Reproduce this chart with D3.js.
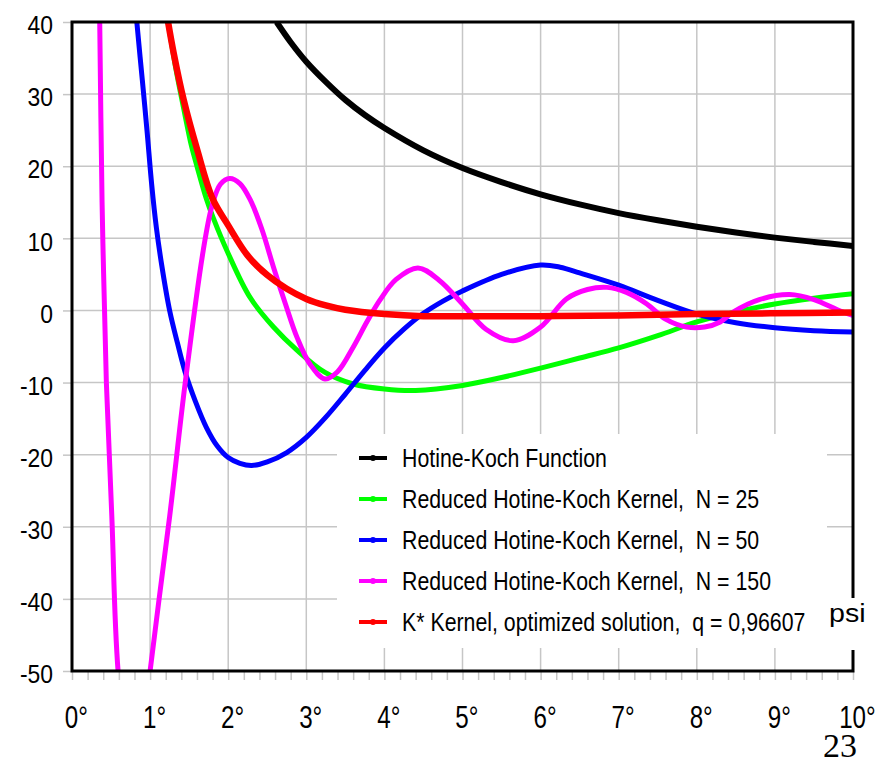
<!DOCTYPE html>
<html>
<head>
<meta charset="utf-8">
<script src="https://cdn.jsdelivr.net/npm/d3@7"></script>
<style>
  body { margin: 0; background: #fff; }
  text { font-family: "Liberation Sans", Arial, sans-serif; }
</style>
</head>
<body>
<svg></svg>
<script>
var margin = {top: 22, right: 28, bottom: 89, left: 72};
var width = 881 - margin.left - margin.right;
var height = 760 - margin.top - margin.bottom;

// psi in degrees, kernel value
var hotineKoch = [[2.62, 40], [2.8, 37.2], [3, 34.5], [3.25, 31.7], [3.5, 29.2], [3.75, 27.1],
  [4, 25.3], [4.5, 22.2], [5, 19.75], [5.5, 17.8], [6, 16.1], [6.5, 14.7], [7, 13.5],
  [7.5, 12.5], [8, 11.6], [8.5, 10.8], [9, 10.1], [9.5, 9.5], [10, 8.95]];

var reducedN25 = [[1.2, 42], [1.23, 40], [1.33, 33.5], [1.43, 28], [1.53, 22.8], [1.6, 20],
  [1.72, 15.5], [1.81, 12.8], [2, 7.9], [2.28, 1.8], [2.58, -2.3], [2.88, -5.5], [3.24, -8.6],
  [3.6, -10.2], [4, -10.9], [4.4, -11.1], [5, -10.4], [5.5, -9.3], [6, -8], [6.5, -6.6],
  [7, -5.2], [7.5, -3.5], [8, -1.6], [8.5, -0.2], [9, 0.9], [9.5, 1.7], [10, 2.3]];

var reducedN50 = [[0.81, 43], [0.83, 40], [0.9, 32], [0.96, 25], [1.02, 17.5], [1.08, 11.5],
  [1.15, 6.2], [1.25, 0], [1.35, -4.5], [1.45, -8.6], [1.58, -12.6], [1.72, -16.2], [1.86, -18.8],
  [2, -20.4], [2.15, -21.2], [2.3, -21.5], [2.5, -21], [2.75, -19.7], [3, -17.6], [3.25, -14.8],
  [3.5, -11.6], [3.75, -8.3], [4, -5.2], [4.25, -2.6], [4.5, -0.4], [4.75, 1.3], [5, 2.7],
  [5.5, 5], [6, 6.3], [6.25, 6], [6.5, 5.2], [7, 3.5], [7.5, 1.4], [8, -0.5], [8.5, -1.7],
  [9, -2.4], [9.5, -2.8], [10, -3]];

var reducedN150 = [[0.35, 45], [0.355, 40], [0.385, 15], [0.405, 5], [0.44, -10], [0.51, -28.6],
  [0.59, -50], [0.8, -70], [1, -50], [1.25, -28.6], [1.45, -10], [1.68, 8.3], [1.79, 14.4],
  [1.9, 17.5], [2.02, 18.3], [2.15, 17.6], [2.28, 15.4], [2.43, 11.3], [2.58, 6], [2.73, 1],
  [2.88, -3.7], [3.05, -7.5], [3.24, -9.5], [3.4, -8.5], [3.6, -5.1], [3.78, -1.5], [3.94, 1.4],
  [4.15, 4.3], [4.43, 5.9], [4.7, 4.2], [5, 0.9], [5.3, -2.6], [5.65, -4.2], [6, -2.3],
  [6.33, 1.6], [6.6, 2.9], [6.85, 3.2], [7.1, 2.5], [7.36, 0.9], [7.6, -1.2], [7.87, -2.3],
  [8.1, -2.3], [8.3, -1.6], [8.47, -0.2], [8.8, 1.5], [9.19, 2.2], [9.5, 1.5], [9.8, 0.1], [10, -0.7]];

var kStar = [[1.2, 42], [1.23, 40], [1.3, 35.8], [1.43, 29.2], [1.6, 22.4], [1.8, 15.5], [2, 11.8],
  [2.25, 7.6], [2.5, 4.9], [2.75, 3], [3, 1.6], [3.25, 0.7], [3.5, 0.1], [4, -0.5], [4.5, -0.8],
  [5, -0.8], [6, -0.8], [7, -0.7], [8, -0.5], [9, -0.4], [10, -0.3]];

var seriesNames = ["Hotine-Koch Function",
  "Reduced Hotine-Koch Kernel,  N = 25",
  "Reduced Hotine-Koch Kernel,  N = 50",
  "Reduced Hotine-Koch Kernel,  N = 150",
  "K* Kernel, optimized solution,  q = 0,96607"];
var seriesColors = ["#000000", "#00ff00", "#0000ff", "#ff00ff", "#ff0000"];
var seriesWidths = [6, 5, 5, 5, 6.5];
var seriesData = [hotineKoch, reducedN25, reducedN50, reducedN150, kStar];

var xTicks = d3.range(0, 11);
var yTicks = d3.range(-50, 41, 10);

var svg = d3.select("svg")
    .attr("width", 881)
    .attr("height", 760);

var g = svg.append("g")
    .attr("transform", "translate(" + margin.left + "," + margin.top + ")");

var x = d3.scaleLinear().domain([0, 10]).range([0, width]);
var y = d3.scaleLinear().domain([-50, 40]).range([height, 0]);

// grid
g.append("g").selectAll("line")
    .data(xTicks.slice(1, -1))
    .enter().append("line")
    .attr("x1", function(d) { return x(d); })
    .attr("x2", function(d) { return x(d); })
    .attr("y1", 0).attr("y2", height)
    .attr("stroke", "#c6c6c6").attr("stroke-width", 1.5);

g.append("g").selectAll("line")
    .data(yTicks.slice(1, -1))
    .enter().append("line")
    .attr("x1", 0).attr("x2", width)
    .attr("y1", function(d) { return y(d); })
    .attr("y2", function(d) { return y(d); })
    .attr("stroke", "#c6c6c6").attr("stroke-width", 1.5);

// minor ticks under the x axis
var xMinor = g.append("g")
    .attr("transform", "translate(0," + height + ")")
    .call(d3.axisBottom(x).tickValues(d3.range(0, 10.01, 0.2)).tickSize(9).tickFormat(""));
xMinor.select(".domain").remove();
xMinor.selectAll("line").attr("stroke", "#c6c6c6").attr("stroke-width", 1.5);

// tick labels are narrow, so squeeze them horizontally
var xAxis = g.append("g")
    .attr("transform", "translate(0," + height + ")")
    .call(d3.axisBottom(x).tickValues(xTicks).tickSize(0).tickPadding(35)
      .tickFormat(function(d) { return d + "°"; }));
xAxis.select(".domain").remove();
xAxis.selectAll("text")
    .attr("font-size", 31).attr("fill", "#000")
    .attr("x", 5)
    .attr("transform", "scale(0.78,1)");

var yAxis = g.append("g")
    .call(d3.axisLeft(y).tickValues(yTicks).tickSize(9)
      .tickFormat(function(d) { return String(d); }));
yAxis.select(".domain").remove();
yAxis.selectAll("line").attr("stroke", "#c6c6c6").attr("stroke-width", 1.5);
yAxis.selectAll("text")
    .attr("font-size", 26).attr("fill", "#000")
    .attr("x", -19 / 0.88)
    .attr("dy", "0.45em")
    .attr("transform", "scale(0.88,1)");

// curves
g.append("clipPath").attr("id", "plot")
  .append("rect").attr("width", width).attr("height", height);

var line = d3.line()
    .x(function(d) { return x(d[0]); })
    .y(function(d) { return y(d[1]); })
    .curve(d3.curveCatmullRom.alpha(0.5));

g.append("g").attr("clip-path", "url(#plot)")
  .selectAll("path")
    .data(seriesData)
    .enter().append("path")
    .attr("d", line)
    .attr("fill", "none")
    .attr("stroke", function(d, i) { return seriesColors[i]; })
    .attr("stroke-width", function(d, i) { return seriesWidths[i]; })
    .attr("stroke-linejoin", "round");

// frame
g.append("rect")
    .attr("width", width).attr("height", height)
    .attr("fill", "none").attr("stroke", "#000").attr("stroke-width", 3);

// legend box (hides the grid)
var legend = g.append("g");
legend.append("rect")
    .attr("x", 265).attr("y", 412).attr("width", 490).attr("height", 214)
    .attr("fill", "#fff");

var rows = legend.selectAll("g.row")
    .data(seriesNames)
    .enter().append("g")
    .attr("class", "row")
    .attr("transform", function(d, i) { return "translate(0," + (436 + i * 41) + ")"; });

rows.append("line")
    .attr("x1", 287).attr("x2", 315)
    .attr("stroke", function(d, i) { return seriesColors[i]; })
    .attr("stroke-width", 4);
rows.append("circle")
    .attr("cx", 301).attr("r", 3)
    .attr("fill", function(d, i) { return seriesColors[i]; });
rows.append("text")
    .attr("transform", "translate(330,9) scale(0.82,1)")
    .attr("font-size", 26)
    .style("white-space", "pre")
    .text(function(d) { return d; });

// psi label, sits over the right frame
g.append("rect")
    .attr("x", 754).attr("y", 576).attr("width", 56).attr("height", 52)
    .attr("fill", "#fff");
g.append("text")
    .attr("transform", "translate(757,600) scale(1.1,1)")
    .attr("font-size", 26)
    .text("psi");

// page number
svg.append("text")
    .attr("x", 823).attr("y", 757)
    .attr("font-size", 34)
    .style("font-family", '"Liberation Serif", "Times New Roman", serif')
    .text("23");
</script>
</body>
</html>
